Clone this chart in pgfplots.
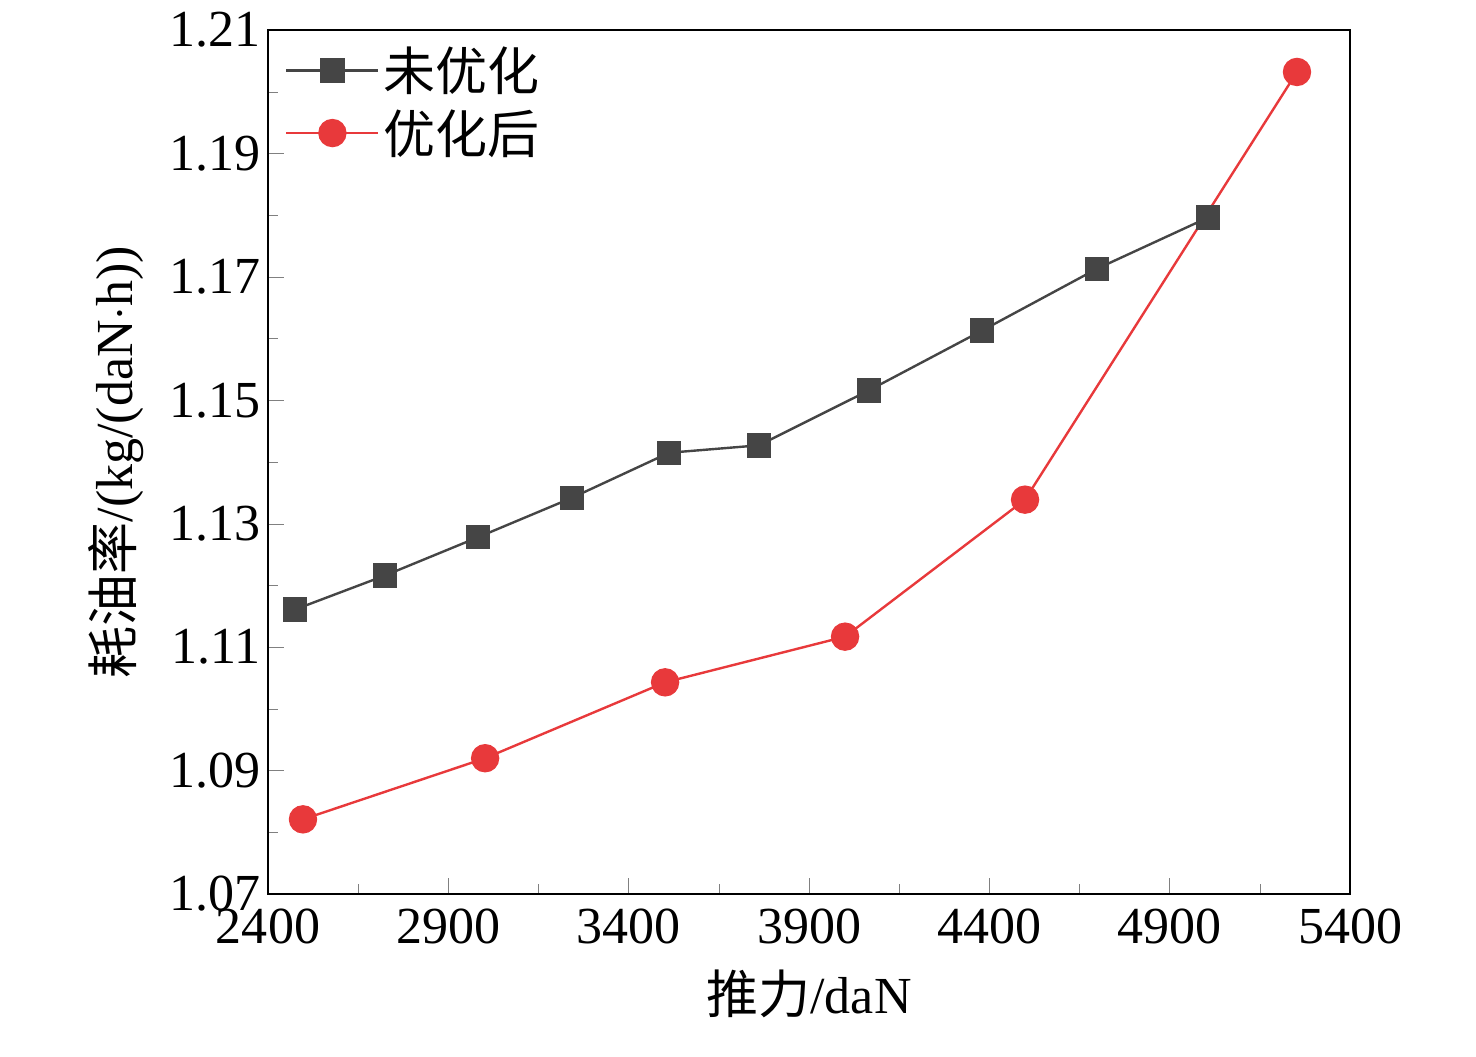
\documentclass[border=0pt]{standalone}
\usepackage{pgfplots}
\pgfplotsset{compat=1.18}
\usetikzlibrary{calc}
\usepackage{fontspec}
\setmainfont{Liberation Serif}
\newfontfamily\cjk{Noto Sans CJK SC}
\definecolor{sgray}{HTML}{454545}
\definecolor{sred}{HTML}{E8393B}
\begin{document}
\begin{tikzpicture}
\begin{axis}[name=ax,
  scale only axis, width=541pt, height=432pt,
  xmin=2400, xmax=5400, ymin=1.07, ymax=1.21,
  xtick={2400,2900,...,5400}, ytick={1.07,1.09,...,1.21},
  minor x tick num=1, minor y tick num=1,
  tick align=inside, xtick pos=bottom, ytick pos=left,
  major tick length=8pt, minor tick length=5pt,
  /pgf/number format/assume math mode=true,
  xticklabel style={/pgf/number format/1000 sep={}, font=\fontsize{26}{26}\selectfont, yshift=-4pt},
  yticklabel style={/pgf/number format/fixed, /pgf/number format/precision=2, /pgf/number format/fixed zerofill, font=\fontsize{26}{26}\selectfont},
  xlabel={{\cjk 推力}/daN}, ylabel={{\cjk 耗油率}/(kg/(daN$\cdot$h))},
  label style={font=\fontsize{26}{26}\selectfont},
  xlabel style={yshift=-6pt},
  ylabel style={yshift=6pt},
  axis line style={line width=1pt},
  legend style={draw=none, fill=none, at={(0.01,0.99)}, anchor=north west, font=\fontsize{26}{30}\selectfont\cjk, row sep=4pt},
  legend image code/.code={\draw[#1] (0pt,0pt) -- (46pt,0pt); \draw[#1, only marks] plot coordinates {(23pt,0pt)};},
  legend cell align=left,
]
\addplot[sgray, line width=1.2pt, mark=square*, mark size=5.5pt] coordinates {
(2475,1.1161)(2724,1.1216)(2982,1.1278)(3243,1.1342)(3512,1.1415)(3761,1.1427)(4066,1.1516)(4380,1.1613)(4698,1.1713)(5006,1.1796)};
\addlegendentry{未优化}
\addplot[sred, line width=1.2pt, mark=*, mark size=6.5pt] coordinates {
(2497,1.0821)(3002,1.0920)(3501,1.1043)(4000,1.1117)(4499,1.1339)(5253,1.2032)};
\addlegendentry{优化后}
\end{axis}
\pgfresetboundingbox
\path ($(ax.south west)+(-134pt,-81pt)$) rectangle ($(ax.north east)+(63pt,15pt)$);
\end{tikzpicture}
\end{document}
